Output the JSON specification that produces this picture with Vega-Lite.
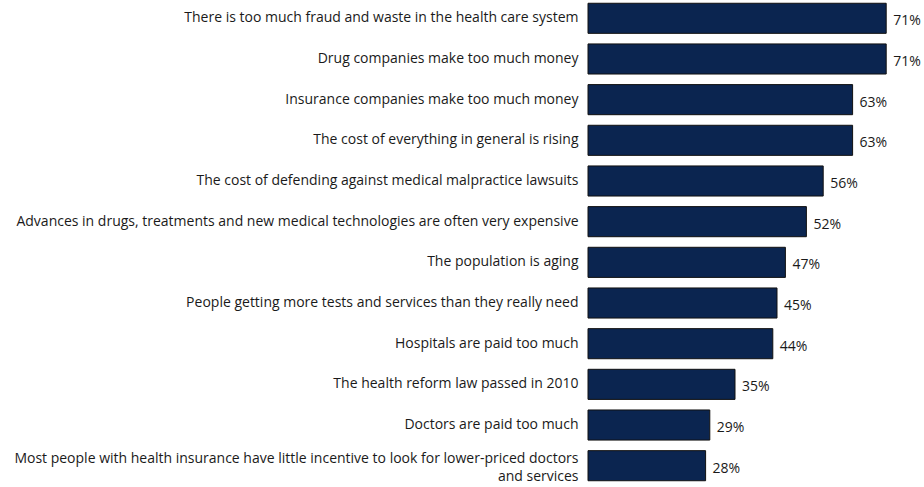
{
  "$schema": "https://vega.github.io/schema/vega-lite/v6.json",
  "autosize": "none",
  "width": 336,
  "height": 484,
  "padding": {"left": 588, "top": 0, "right": 0, "bottom": 0},
  "background": "white",
  "config": {"view": {"stroke": null}, "font": "Open Sans"},
  "data": {"values": [
    {"reason": "There is too much fraud and waste in the health care system", "pct": 0.71},
    {"reason": "Drug companies make too much money", "pct": 0.71},
    {"reason": "Insurance companies make too much money", "pct": 0.63},
    {"reason": "The cost of everything in general is rising", "pct": 0.63},
    {"reason": "The cost of defending against medical malpractice lawsuits", "pct": 0.56},
    {"reason": "Advances in drugs, treatments and new medical technologies are often very expensive", "pct": 0.52},
    {"reason": "The population is aging", "pct": 0.47},
    {"reason": "People getting more tests and services than they really need", "pct": 0.45},
    {"reason": "Hospitals are paid too much", "pct": 0.44},
    {"reason": "The health reform law passed in 2010", "pct": 0.35},
    {"reason": "Doctors are paid too much", "pct": 0.29},
    {"reason": "Most people with health insurance have little incentive to look for lower-priced doctors and services", "pct": 0.28}
  ]},
  "encoding": {
    "y": {
      "field": "reason", "type": "nominal", "sort": null,
      "scale": {"paddingInner": 0.26, "paddingOuter": 0.08},
      "axis": {
        "title": null, "domain": false, "ticks": false,
        "labelPadding": 10, "labelLimit": 600, "labelFontSize": 14,
        "labelColor": "#1a1a1a", "labelLineHeight": 18,
        "labelOffset": {"condition": {"test": "length(datum.label) > 90", "value": -7}, "value": 0},
        "labelExpr": "length(datum.label) > 90 ? ['Most people with health insurance have little incentive to look for lower-priced doctors', 'and services'] : datum.label"
      }
    },
    "x": {
      "field": "pct", "type": "quantitative",
      "scale": {"domain": [0, 0.8], "nice": false},
      "axis": null
    }
  },
  "layer": [
    {"mark": {"type": "bar", "color": "#0b2550", "stroke": "#111111", "strokeWidth": 1}},
    {
      "mark": {"type": "text", "align": "left", "dx": 7, "dy": 3, "fontSize": 14, "color": "#1a1a1a"},
      "encoding": {"text": {"field": "pct", "type": "quantitative", "format": ".0%"}}
    }
  ]
}
